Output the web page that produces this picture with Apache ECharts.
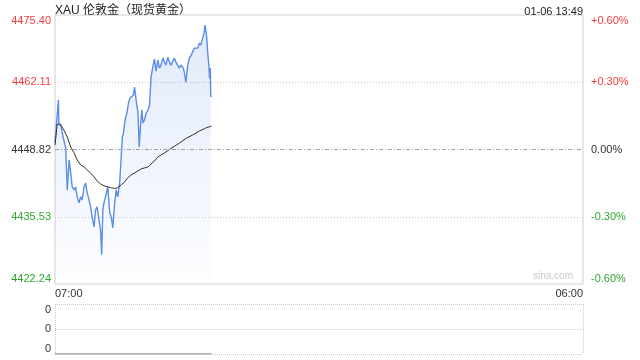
<!DOCTYPE html>
<html>
<head>
<meta charset="utf-8">
<script src="https://cdn.jsdelivr.net/npm/echarts@6/dist/echarts.min.js"></script>
<style>
html,body{margin:0;padding:0;background:#fff;}
#chart{width:640px;height:360px;}
</style>
</head>
<body>
<div id="chart"></div>
<script>
// ---- data ----
const titleText = 'XAU 伦敦金（现货黄金）';
const stampText = '01-06 13:49';
const preClose = 4448.82;
const priceTicks = ['4422.24', '4435.53', '4448.82', '4462.11', '4475.40'];
const pctTicks = ['-0.60%', '-0.30%', '0.00%', '+0.30%', '+0.60%'];
const timeLabels = ['07:00', '06:00'];
const sessionMinutes = 1380; // 07:00 -> 06:00 next day

// minutes since 07:00 and price
const priceMinutes = [0,4,9,10,15,19,23,28,32,37,41,45,50,54,58,63,67,71,76,80,84,89,93,97,102,106,110,115,119,122,125,128,132,136,138,143,147,151,156,160,164,169,173,176,179,183,188,192,196,201,205,208,212,217,220,224,227,230,234,238,243,247,251,256,260,264,269,273,277,282,286,290,295,299,303,308,312,316,321,325,329,334,338,342,347,351,356,360,364,368,373,377,381,386,390,392,396,399,402,404,406,407,409];
const prices = [4450.11,4454.06,4458.59,4454.06,4453.66,4452.09,4450.70,4449.13,4440.84,4446.76,4444.19,4441.43,4440.84,4441.43,4439.46,4438.28,4439.46,4438.87,4441.43,4442.22,4440.25,4438.87,4437.49,4435.52,4433.54,4436.90,4437.49,4434.92,4432.95,4428.02,4436.90,4438.28,4439.46,4440.84,4441.43,4436.31,4435.52,4433.35,4438.28,4440.84,4439.46,4442.22,4447.35,4451.30,4452.09,4454.65,4456.03,4458.00,4458.99,4459.19,4459.58,4461.16,4458.59,4456.03,4449.32,4454.06,4456.62,4454.06,4454.65,4456.03,4456.62,4457.61,4463.13,4465.30,4466.68,4464.31,4466.48,4464.91,4465.50,4466.88,4466.09,4465.50,4467.08,4466.09,4465.50,4465.89,4466.88,4466.09,4465.89,4464.91,4465.50,4465.10,4464.12,4462.14,4465.50,4466.88,4467.47,4467.86,4468.85,4469.05,4468.85,4469.84,4469.44,4470.82,4472.01,4473.39,4471.42,4468.06,4465.50,4462.93,4464.91,4459.58,4459.19];

const avgMinutes = [0,6,11,15,23,32,41,50,58,67,76,84,93,102,110,119,128,138,147,156,164,173,182,190,199,208,217,225,234,243,251,260,269,290,309,326,344,360,378,394,409];
const avgPrices = [4449.72,4453.86,4454.06,4453.66,4452.68,4451.30,4449.32,4448.14,4446.76,4445.77,4445.38,4444.79,4444.19,4443.41,4442.62,4442.03,4441.63,4441.43,4441.24,4441.14,4441.24,4441.83,4442.42,4443.21,4443.80,4444.19,4444.59,4444.98,4445.18,4445.38,4445.97,4446.56,4447.35,4448.34,4449.32,4450.11,4451.10,4451.69,4452.48,4453.07,4453.46];

const volumeMinutes = [0, 409];
const volumes = [0, 0];

// ---- build ----
const red = '#f03c3c', green = '#2fa82f', dark = '#333';
const axMin = Number(priceTicks[0]) - preClose;
const axMax = Number(priceTicks[4]) - preClose;
const step = Number(priceTicks[1]) - Number(priceTicks[0]);
const pricePts = priceMinutes.map((m, i) => [m, +(prices[i] - preClose).toFixed(2)]);
const avgPts = avgMinutes.map((m, i) => [m, +(avgPrices[i] - preClose).toFixed(2)]);
const volPts = volumeMinutes.map((m, i) => [m, volumes[i]]);
const font = 'Liberation Sans, Arial, sans-serif';
function tickColor(i) { return i > 2 ? red : (i < 2 ? green : dark); }
function idxOf(v) { return Math.round((Number(v) - axMin) / step); }

const chart = echarts.init(document.getElementById('chart'), null, {renderer: 'canvas'});
chart.setOption({
  animation: false,
  title: [
    {text: titleText, left: 50, top: 0, textStyle: {fontSize: 12, fontWeight: 'normal', color: '#222', fontFamily: 'Liberation Sans, Noto Sans CJK SC, sans-serif'}},
    {text: stampText, right: 52, top: 1, textStyle: {fontSize: 11, fontWeight: 'normal', color: '#222', fontFamily: font}}
  ],
  graphic: [{
    type: 'text', right: 67, top: 271,
    style: {text: 'sina.com', fill: '#c8c8c8', font: '10px ' + font}
  }],
  grid: [
    {left: 55, right: 57, top: 15, height: 269, show: true, borderColor: '#cfcfcf', borderWidth: 1, backgroundColor: 'transparent'},
    {left: 55, right: 57, top: 304, height: 50}
  ],
  xAxis: [
    {type: 'value', gridIndex: 0, min: 0, max: sessionMinutes, interval: sessionMinutes,
     axisLine: {show: false}, axisTick: {show: false}, splitLine: {show: false},
     axisLabel: {margin: 4, fontSize: 11, color: dark, fontFamily: font,
       formatter: v => (v === 0 ? timeLabels[0] : timeLabels[1]),
       alignMinLabel: 'left', alignMaxLabel: 'right'}},
    {type: 'value', gridIndex: 1, min: 0, max: sessionMinutes, interval: sessionMinutes,
     axisLine: {show: false}, axisTick: {show: false}, axisLabel: {show: false},
     splitLine: {show: true, lineStyle: {color: '#c8c8c8', type: [1, 1]}}}
  ],
  yAxis: [
    {type: 'value', gridIndex: 0, position: 'left', min: axMin, max: axMax, interval: step,
     axisLine: {show: false}, axisTick: {show: false},
     axisLabel: {margin: 4, fontSize: 11, fontFamily: font,
       formatter: v => priceTicks[idxOf(v)],
       color: v => tickColor(idxOf(v)),
       verticalAlignMinLabel: 'bottom', verticalAlignMaxLabel: 'top'},
     splitLine: {show: true, lineStyle: {color: ['transparent', '#c8c8c8', 'transparent', '#c8c8c8', 'transparent'], type: [1, 2]}}},
    {type: 'value', gridIndex: 0, position: 'right', min: axMin, max: axMax, interval: step,
     axisLine: {show: false}, axisTick: {show: false}, splitLine: {show: false},
     axisLabel: {margin: 8, fontSize: 11, fontFamily: font,
       formatter: v => pctTicks[idxOf(v)],
       color: v => tickColor(idxOf(v)),
       verticalAlignMinLabel: 'bottom', verticalAlignMaxLabel: 'top'}},
    {type: 'value', gridIndex: 1, min: 0, max: 1, interval: 0.5,
     axisLine: {show: false}, axisTick: {show: false},
     axisLabel: {margin: 4, fontSize: 11, color: dark, fontFamily: font, formatter: () => '0',
       verticalAlignMinLabel: 'bottom', verticalAlignMaxLabel: 'top'},
     splitLine: {show: true, lineStyle: {color: '#c8c8c8', type: [1, 1]}}}
  ],
  series: [
    {type: 'line', xAxisIndex: 0, yAxisIndex: 0, data: pricePts, symbol: 'none',
     lineStyle: {color: '#5b8ee9', width: 1.4}, itemStyle: {color: '#5b8ee9'},
     areaStyle: {origin: 'start', color: new echarts.graphic.LinearGradient(0, 0, 0, 1, [
       {offset: 0, color: 'rgba(91,142,233,0.26)'},
       {offset: 1, color: 'rgba(91,142,233,0.02)'}])},
     markLine: {silent: true, symbol: 'none', label: {show: false},
       lineStyle: {color: '#a0a0a0', type: [4, 2, 1, 2], width: 1},
       data: [{yAxis: 0}]}},
    {type: 'line', xAxisIndex: 0, yAxisIndex: 0, data: avgPts, symbol: 'none',
     lineStyle: {color: '#333', width: 1}, itemStyle: {color: '#333'}},
    {type: 'line', xAxisIndex: 1, yAxisIndex: 2, data: volPts, symbol: 'none',
     lineStyle: {color: '#666', width: 1}, itemStyle: {color: '#666'}}
  ]
});
</script>
</body>
</html>
